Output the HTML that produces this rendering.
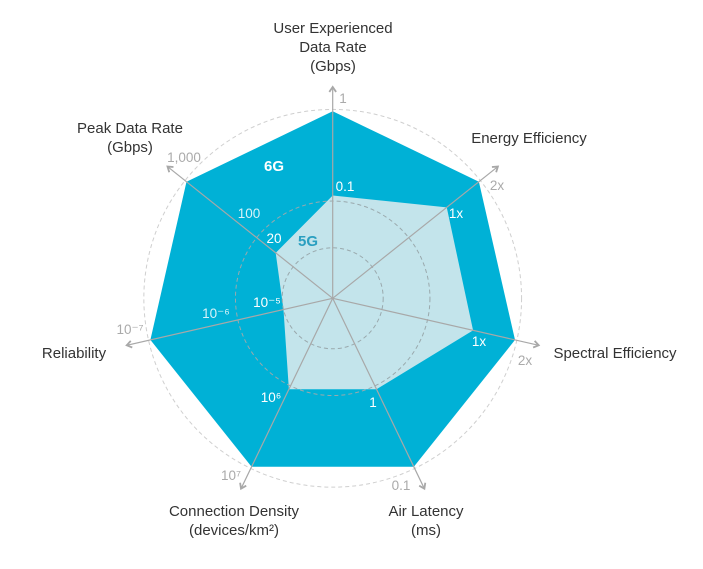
<!DOCTYPE html>
<html><head><meta charset="utf-8"><style>
html,body{margin:0;padding:0;background:#fff;}
svg{display:block;font-family:"Liberation Sans",sans-serif;}
</style></head><body>
<svg id="chart" width="703" height="569" viewBox="0 0 703 569">
<g id="grid"></g><g id="series"></g><g id="axes"></g><g id="labels"></g>
</svg>
<script>
const axisNames = ["User Experienced|Data Rate|(Gbps)","Energy Efficiency","Spectral Efficiency","Air Latency|(ms)","Connection Density|(devices/km²)","Reliability","Peak Data Rate|(Gbps)"];
const values6G = [1,1,1,1,1,1,1];
const values5G = [0.55,0.78,0.77,0.54,0.54,0.27,0.39];
const outerTicks = ["1","2x","2x","0.1","10⁷","10⁻⁷","1,000"];
const innerTicks = ["0.1","1x","1x","1","10⁶","10⁻⁵","20"];
const midTicks = ["","","","","","10⁻⁶","100"];
const ringFractions = [0.27,0.52,1.01];

const NS="http://www.w3.org/2000/svg";
const cx=332.7, cy=298.3, R=187;
const ang=i=>(-90+i*360/7)*Math.PI/180;
const pt=(i,f)=>[cx+R*f*Math.cos(ang(i)), cy+R*f*Math.sin(ang(i))];
function mk(tag,attrs,parent){const e=document.createElementNS(NS,tag);for(const k in attrs)e.setAttribute(k,attrs[k]);parent.appendChild(e);return e;}
const grid=document.getElementById('grid'),series=document.getElementById('series'),axes=document.getElementById('axes'),labels=document.getElementById('labels');

const p6=mk('polygon',{points:values6G.map((v,i)=>pt(i,v).join(',')).join(' '),fill:'#00b1d6'},series);


const p5=mk('polygon',{points:values5G.map((v,i)=>pt(i,v).join(',')).join(' '),fill:'#c3e4eb'},series);



ringFractions.forEach((f,k)=>{
  const c=mk('circle',{cx:cx,cy:cy,r:R*f,fill:'none',stroke:k==2?'#cfcfcf':'#9aa9ad',"stroke-width":1,"stroke-dasharray":'4 3'},k==2?grid:axes);
  
  
});

axisNames.forEach((n,i)=>{
  const [x2,y2]=pt(i,1.13);
  const l=mk('line',{x1:cx,y1:cy,x2:x2,y2:y2,stroke:'#a8a8a8',"stroke-width":1.2},axes);
  
  
  const a=ang(i),s=6;
  const ax=[x2-s*Math.cos(a-0.6),y2-s*Math.sin(a-0.6)],ay=[x2-s*Math.cos(a+0.6),y2-s*Math.sin(a+0.6)];
  const h=mk('polyline',{points:`${ax} ${x2},${y2} ${ay}`,fill:'none',stroke:'#a8a8a8',"stroke-width":1.8},axes);
  
  
});

const labelPos=[[333,33],[529,143],[615,358],[426,516],[234,516],[74,358],[130,133]];
axisNames.forEach((n,i)=>{
  const lines=n.split('|');const [x,y]=labelPos[i];
  const t=mk('text',{x:x,y:y,"text-anchor":'middle',"font-size":15,fill:'#333'},labels);
  
  
  lines.forEach((ln,j)=>{const s=mk('tspan',{x:x,dy:j?19:0},t);s.textContent=ln;});
});

const outerPos=[[343,103],[497,190],[525,365],[401,490],[231,480],[130,334],[184,162]];
const innerPos=[[345,191],[456,218],[479,346],[373,407],[271,402],[267,307],[274,243]];
const midPos=[[0,0],[0,0],[0,0],[0,0],[0,0],[216,318],[249,218]];
function tick(arr,pos,color,nm){arr.forEach((s,i)=>{if(!s)return;const t=mk('text',{x:pos[i][0],y:pos[i][1],"text-anchor":'middle',"font-size":13.5,fill:color},labels);
  
  
  t.textContent=s;});}
tick(outerTicks,outerPos,'#aaa','outer-tick-label');
tick(innerTicks,innerPos,'#fff','inner-tick-label');
tick(midTicks,midPos,'#d8f2f8','mid-tick-label');

const g6=mk('text',{x:274,y:171,"font-size":15,"font-weight":'bold',fill:'#fff',"text-anchor":'middle'},labels);


g6.textContent='6G';
const g5=mk('text',{x:308,y:246,"font-size":15,"font-weight":'bold',fill:'#2a9fc0',"text-anchor":'middle'},labels);


g5.textContent='5G';
</script>
</body></html>
